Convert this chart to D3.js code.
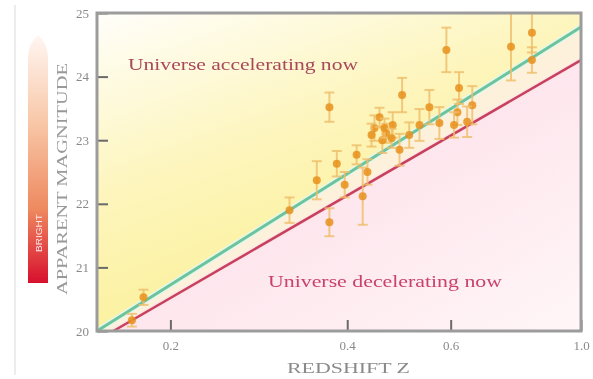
<!DOCTYPE html>
<html lang="en">
<head>
<meta charset="utf-8">
<title>Redshift vs apparent magnitude</title>
<script src="https://d3js.org/d3.v7.min.js"></script>
<style>
  body { margin: 0; background: #fff; }
  svg { display: block; }
  .tick text { font-family: "Liberation Serif", serif; font-size: 13px; fill: #8a8a8a; }
  .tick line { stroke: #6a6a6a; stroke-width: 2; }
</style>
</head>
<body>
<script>
// supernovae: redshift, apparent magnitude, error (mag)
var redshift  = [0.172, 0.180, 0.319, 0.355, 0.373, 0.384, 0.373, 0.425, 0.396, 0.415,
                 0.445, 0.466, 0.478, 0.459, 0.454, 0.496, 0.491, 0.552, 0.590, 0.620,
                 0.653, 0.574, 0.616, 0.760, 0.825, 0.825, 0.510, 0.531, 0.433, 0.640,
                 0.463, 0.476, 0.440, 0.608];
var magnitude = [20.17, 20.53, 21.90, 22.37, 23.52, 22.63, 21.71, 22.12, 22.30, 22.77,
                 23.19, 23.11, 23.24, 23.00, 23.36, 23.71, 22.85, 23.52, 24.42, 23.82,
                 23.55, 23.27, 23.44, 24.47, 24.69, 24.26, 23.08, 23.24, 22.50, 23.29,
                 23.19, 23.03, 23.08, 23.24];
var magError  = [0.10, 0.12, 0.20, 0.30, 0.23, 0.20, 0.22, 0.45, 0.20, 0.15,
                 0.20, 0.15, 0.20, 0.20, 0.15, 0.27, 0.25, 0.27, 0.35, 0.25,
                 0.30, 0.25, 0.20, 0.53, 0.31, 0.20, 0.20, 0.25, 0.20, 0.24,
                 0.15, 0.15, 0.18, 0.20];

// model lines (z, magnitude)
var accelLine = [[0.15, 20], [1.0, 24.78]];
var decelLine = [[0.16, 20], [1.0, 24.26]];

var xTicks = [0.2, 0.4, 0.6, 1.0];
var yTicks = [20, 21, 22, 23, 24, 25];

var width = 593, height = 379;

var root = d3.select("body").append("svg")
    .attr("width", width)
    .attr("height", height);

var defs = root.append("defs");

// the reference is soft, so blur everything a little
defs.append("filter").attr("id", "soft")
    .attr("x", 0).attr("y", 0).attr("width", 1).attr("height", 1)
  .append("feGaussianBlur").attr("stdDeviation", 0.7);

var svg = root.append("g").attr("filter", "url(#soft)");
svg.append("rect").attr("width", width).attr("height", height).attr("fill", "#fff");

var x = d3.scaleLog().domain([0.15, 1.0]).range([97, 581]);
var y = d3.scaleLinear().domain([20, 25]).range([331, 13]);

var gy = defs.append("linearGradient").attr("id", "yellow")
    .attr("x1", 0).attr("y1", 0).attr("x2", 0.55).attr("y2", 1);
gy.append("stop").attr("offset", 0).attr("stop-color", "#fffefa");
gy.append("stop").attr("offset", 0.45).attr("stop-color", "#fdf5bc");
gy.append("stop").attr("offset", 1).attr("stop-color", "#fbef8e");

var gp = defs.append("linearGradient").attr("id", "pink")
    .attr("x1", 0).attr("y1", 0).attr("x2", 1).attr("y2", 1);
gp.append("stop").attr("offset", 0).attr("stop-color", "#fcd6e2");
gp.append("stop").attr("offset", 1).attr("stop-color", "#fff6f8");

var gb = defs.append("linearGradient").attr("id", "bar")
    .attr("x1", 0).attr("y1", 0).attr("x2", 0).attr("y2", 1);
gb.append("stop").attr("offset", 0).attr("stop-color", "#fff6f2");
gb.append("stop").attr("offset", 0.35).attr("stop-color", "#f8c8a8");
gb.append("stop").attr("offset", 0.7).attr("stop-color", "#ee8a60");
gb.append("stop").attr("offset", 1).attr("stop-color", "#d8102e");

// faint page edge
svg.append("line")
    .attr("x1", 15).attr("x2", 15).attr("y1", 5).attr("y2", 375)
    .attr("stroke", "#ececec").attr("stroke-width", 2);

// background regions
var x0 = x.range()[0], x1 = x.range()[1];
var yTop = y.range()[1], yBot = y.range()[0];
function pt(d) { return [x(d[0]), y(d[1])]; }
var gs = pt(accelLine[0]), ge = pt(accelLine[1]);
var rs = pt(decelLine[0]), re = pt(decelLine[1]);

svg.append("polygon")
    .attr("points", [[x0, yTop], [x1, yTop], ge, gs].join(" "))
    .attr("fill", "url(#yellow)");
svg.append("polygon")
    .attr("points", [gs, ge, re, rs].join(" "))
    .attr("fill", "#fdf1dc");
svg.append("polygon")
    .attr("points", [rs, re, [x1, yBot]].join(" "))
    .attr("fill", "url(#pink)");

// region labels
svg.append("text")
    .attr("x", 128).attr("y", 70)
    .attr("textLength", 230).attr("lengthAdjust", "spacingAndGlyphs")
    .style("font-family", "Liberation Serif, serif")
    .style("font-size", "17px")
    .style("fill", "#a8485a")
    .text("Universe accelerating now");

svg.append("text")
    .attr("x", 268).attr("y", 287)
    .attr("textLength", 234).attr("lengthAdjust", "spacingAndGlyphs")
    .style("font-family", "Liberation Serif, serif")
    .style("font-size", "17px")
    .style("fill", "#c8426a")
    .text("Universe decelerating now");

// model lines
var line = d3.line().x(function(d) { return x(d[0]); }).y(function(d) { return y(d[1]); });

svg.append("path").datum(accelLine).attr("d", line)
    .attr("fill", "none").attr("stroke", "#e6f6ec").attr("stroke-width", 6);
svg.append("path").datum(accelLine).attr("d", line)
    .attr("fill", "none").attr("stroke", "#6cc49c").attr("stroke-width", 3);
svg.append("path").datum(decelLine).attr("d", line)
    .attr("fill", "none").attr("stroke", "#fbe4ea").attr("stroke-width", 5);
svg.append("path").datum(decelLine).attr("d", line)
    .attr("fill", "none").attr("stroke", "#c8405c").attr("stroke-width", 2.5);

// supernovae
var data = redshift.map(function(z, i) {
  return { z: z, m: magnitude[i], e: magError[i] };
});

var sn = svg.append("g").selectAll("g")
    .data(data)
  .enter().append("g");

sn.append("line")
    .attr("x1", function(d) { return x(d.z); })
    .attr("x2", function(d) { return x(d.z); })
    .attr("y1", function(d) { return y(d.m - d.e); })
    .attr("y2", function(d) { return y(d.m + d.e); })
    .attr("stroke", "#efbe6a").attr("stroke-width", 2).attr("opacity", 0.8);

sn.selectAll(".cap")
    .data(function(d) { return [d.m - d.e, d.m + d.e].map(function(v) { return { z: d.z, v: v }; }); })
  .enter().append("line")
    .attr("class", "cap")
    .attr("x1", function(d) { return x(d.z) - 5; })
    .attr("x2", function(d) { return x(d.z) + 5; })
    .attr("y1", function(d) { return y(d.v); })
    .attr("y2", function(d) { return y(d.v); })
    .attr("stroke", "#efbe6a").attr("stroke-width", 2).attr("opacity", 0.8);

sn.append("circle")
    .attr("cx", function(d) { return x(d.z); })
    .attr("cy", function(d) { return y(d.m); })
    .attr("r", 4)
    .attr("fill", "#e8901c").attr("opacity", 0.85);

// axes
svg.append("g")
    .attr("transform", "translate(" + x0 + ",0)")
    .call(d3.axisLeft(y).tickValues(yTicks).tickSize(-11).tickPadding(8).tickFormat(d3.format("d")))
    .call(function(g) { g.select(".domain").remove(); });

svg.append("g")
    .attr("transform", "translate(0," + yBot + ")")
    .call(d3.axisBottom(x).tickValues(xTicks).tickSize(-11).tickPadding(10).tickFormat(d3.format(".1f")))
    .call(function(g) { g.select(".domain").remove(); });

svg.append("rect")
    .attr("x", x0).attr("y", yTop)
    .attr("width", x1 - x0).attr("height", yBot - yTop)
    .attr("fill", "none").attr("stroke", "#9c9c9c").attr("stroke-width", 3);

svg.append("text")
    .attr("x", 287).attr("y", 373)
    .attr("textLength", 123).attr("lengthAdjust", "spacingAndGlyphs")
    .style("font-family", "Liberation Serif, serif")
    .style("font-size", "15px")
    .style("fill", "#8a8a8a")
    .text("REDSHIFT Z");

// magnitude arrow bar
svg.append("path")
    .attr("d", "M28,283 L28,58 Q28,44 38,35 Q48,44 48,58 L48,283 Z")
    .attr("fill", "url(#bar)");

svg.append("text")
    .attr("transform", "translate(42,252) rotate(-90)")
    .attr("textLength", 38).attr("lengthAdjust", "spacingAndGlyphs")
    .style("font-family", "Liberation Sans, sans-serif")
    .style("font-size", "9px")
    .style("fill", "#ffe4e8")
    .text("BRIGHT");

svg.append("text")
    .attr("transform", "translate(67,295) rotate(-90)")
    .attr("textLength", 232).attr("lengthAdjust", "spacingAndGlyphs")
    .style("font-family", "Liberation Serif, serif")
    .style("font-size", "14px")
    .style("fill", "#999")
    .text("APPARENT MAGNITUDE");
</script>
</body>
</html>
